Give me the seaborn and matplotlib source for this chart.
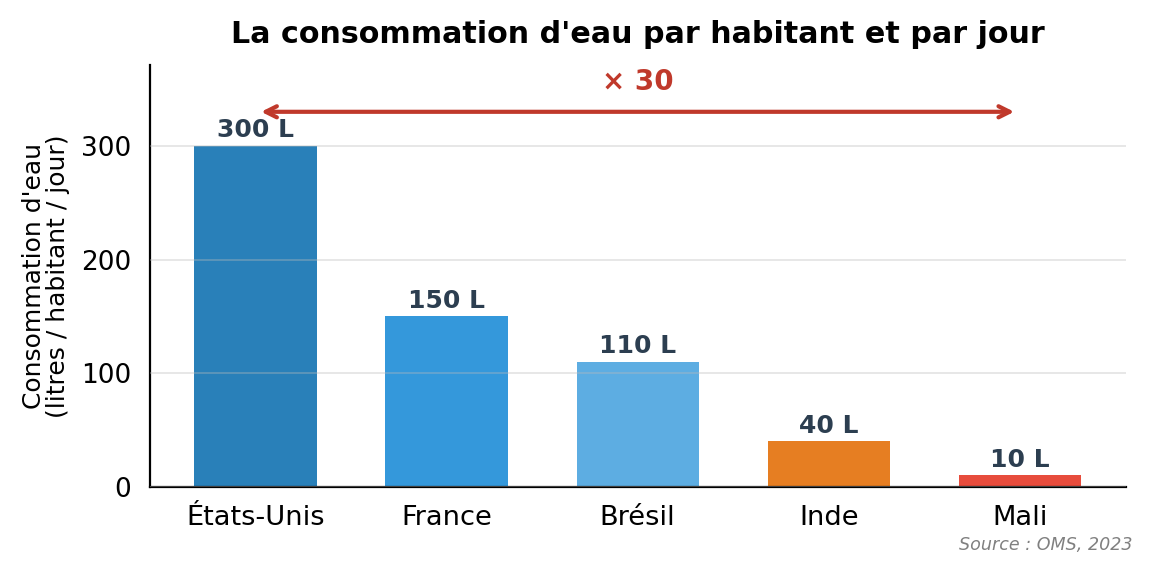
import pandas as pd
import matplotlib.pyplot as plt
import seaborn as sns

# data
pays = ['États-Unis', 'France', 'Brésil', 'Inde', 'Mali']
litres = [300, 150, 110, 40, 10]
couleurs = ['#2980b9', '#3498db', '#5dade2', '#e67e22', '#e74c3c']

df = pd.DataFrame({'Pays': pays, 'Litres': litres})

sns.set_style('white')
plt.rcParams['font.family'] = ['DejaVu Sans']
plt.rcParams.update({'text.color': 'black', 'axes.labelcolor': 'black',
                     'xtick.color': 'black', 'ytick.color': 'black',
                     'axes.edgecolor': 'black'})

fig, ax = plt.subplots(figsize=(5.75, 2.86), dpi=200)
sns.barplot(data=df, x='Pays', y='Litres', hue='Pays', palette=couleurs,
            width=0.64, legend=False, ax=ax, saturation=1, linewidth=0)

for i, v in enumerate(litres):
    ax.text(i, v + 3, f'{v} L', ha='center', va='bottom', fontsize=9,
            fontweight='bold', color='#2c3e50')

# arrow between first and last bar
ax.annotate('', xy=(len(pays) - 1, 330), xytext=(0, 330),
            arrowprops=dict(arrowstyle='<->', color='#c0392b', lw=1.5, shrinkA=2, shrinkB=2))
ax.text((len(pays) - 1) / 2, 356, f'× {litres[0] // litres[-1]}', ha='center', va='center',
        fontsize=10, fontweight='bold', color='#c0392b')

ax.set_xlim(-0.555, len(pays) - 1 + 0.555)
ax.set_ylim(0, 371)
ax.set_yticks([0, 100, 200, 300])
ax.set_axisbelow(False)
ax.yaxis.grid(True, color='#bbbbbb', alpha=0.35, lw=0.7)
sns.despine(ax=ax)

ax.set_xlabel('')
ax.set_ylabel("Consommation d'eau\n(litres / habitant / jour)", fontsize=9, linespacing=1.0)
ax.tick_params(axis='both', length=3, width=0.8)
ax.tick_params(axis='x', labelsize=9.8)
ax.tick_params(axis='y', labelsize=9.5)
ax.set_title("La consommation d'eau par habitant et par jour", fontsize=10.85,
             fontweight='bold', pad=8)

fig.text(0.985, 0.047, 'Source : OMS, 2023', ha='right', va='center', fontsize=6.3,
         style='italic', color='grey')

fig.subplots_adjust(left=0.130, right=0.979, bottom=0.149, top=0.886)
plt.savefig('out.png')
